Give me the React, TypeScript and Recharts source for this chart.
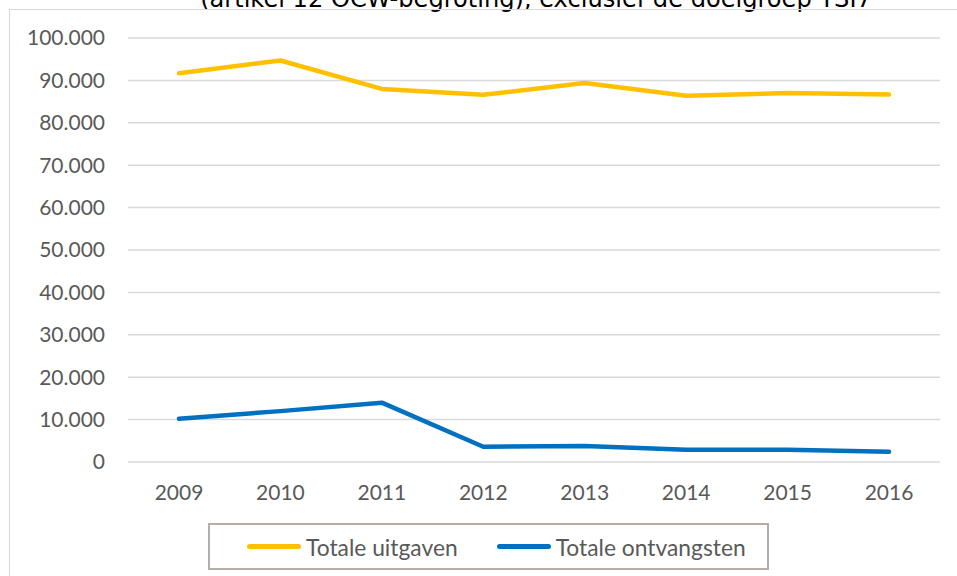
import { LineChart, Line, XAxis, YAxis, CartesianGrid } from "recharts";

const years = ["2009", "2010", "2011", "2012", "2013", "2014", "2015", "2016"];
const uitgaven = [91700, 94700, 88000, 86600, 89400, 86400, 87000, 86700];
const ontvangsten = [10200, 12000, 14000, 3600, 3800, 2900, 2900, 2400];
const yTicks = [0, 10000, 20000, 30000, 40000, 50000, 60000, 70000, 80000, 90000, 100000];
const seriesNames = ["Totale uitgaven", "Totale ontvangsten"];
const seriesColors = ["#FFC000", "#0070C0"];
const title = "(artikel 12 OCW-begroting), exclusief de doelgroep TSI7";

const data = years.map((year, i) => ({
  year,
  uitgaven: uitgaven[i],
  ontvangsten: ontvangsten[i],
}));

const fmt = (v: number) => String(v).replace(/\B(?=(\d{3})+(?!\d))/g, ".");

const font = "Lato, 'Open Sans', sans-serif";
const tick = { fill: "#595959", fontSize: 21, fontFamily: font };

export default function App() {
  return (
    <div
      style={{
        position: "absolute",
        left: 0,
        top: 0,
        width: 957,
        height: 576,
        overflow: "hidden",
        background: "#fff",
      }}
    >
      {/* title, mostly cut off at the top */}
      <div
        style={{
          position: "absolute",
          top: -13,
          left: 0,
          width: 1072,
          textAlign: "center",
          fontFamily: "'DejaVu Sans', sans-serif",
          fontSize: 24.1,
          lineHeight: "24.5px",
          color: "#000",
          whiteSpace: "nowrap",
        }}
      >
        {title}
      </div>
      {/* outer chart frame */}
      <div
        style={{
          position: "absolute",
          left: 9,
          top: 9,
          width: 960,
          height: 580,
          borderLeft: "1.5px solid #d9d9d9",
          borderTop: "1.5px solid #d9d9d9",
          boxSizing: "border-box",
        }}
      />
      <div style={{ position: "absolute", left: 0, top: 0 }}>
        <LineChart
          width={957}
          height={576}
          data={data}
          margin={{ top: 38, right: 17, left: 10, bottom: 84 }}
        >
          <CartesianGrid vertical={false} stroke="#d9d9d9" strokeWidth={1.5} />
          <XAxis
            dataKey="year"
            axisLine={false}
            tickLine={false}
            tickSize={0}
            tickMargin={23}
            height={30}
            padding={{ left: 51, right: 51 }}
            tick={tick}
            interval={0}
          />
          <YAxis
            domain={[0, 100000]}
            ticks={yTicks}
            tickFormatter={fmt}
            axisLine={false}
            tickLine={false}
            tickSize={0}
            tickMargin={23}
            width={118}
            tick={tick}
            interval={0}
          />
          <Line
            dataKey="uitgaven"
            name={seriesNames[0]}
            stroke={seriesColors[0]}
            strokeWidth={4.5}
            strokeLinecap="round"
            strokeLinejoin="round"
            dot={false}
            isAnimationActive={false}
          />
          <Line
            dataKey="ontvangsten"
            name={seriesNames[1]}
            stroke={seriesColors[1]}
            strokeWidth={4.5}
            strokeLinecap="round"
            strokeLinejoin="round"
            dot={false}
            isAnimationActive={false}
          />
        </LineChart>
      </div>
      {/* legend */}
      <div
        style={{
          position: "absolute",
          left: 208,
          top: 523,
          width: 561,
          height: 47,
          border: "2px solid #b3aea8",
          boxSizing: "border-box",
          display: "flex",
          alignItems: "center",
          paddingLeft: 37,
          fontFamily: font,
          fontSize: 22.8,
          color: "#595959",
          whiteSpace: "nowrap",
        }}
      >
        {seriesNames.map((name, i) => (
          <div
            key={name}
            style={{
              display: "flex",
              alignItems: "center",
              flexShrink: 0,
              marginRight: i === 0 ? 39 : 0,
            }}
          >
            <span
              style={{
                display: "inline-block",
                width: 54,
                height: 5,
                borderRadius: 3,
                background: seriesColors[i],
                marginRight: 5,
                flexShrink: 0,
              }}
            />
            <span>{name}</span>
          </div>
        ))}
      </div>
    </div>
  );
}
